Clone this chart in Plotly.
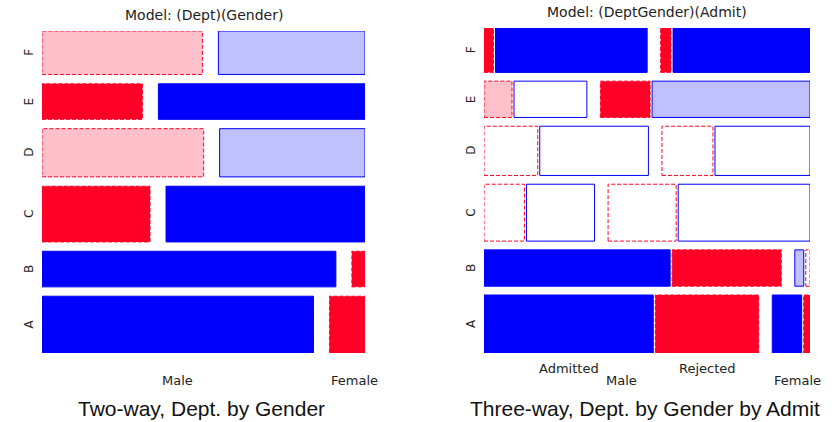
import numpy as np
import plotly.graph_objects as go

# UC Berkeley admissions, counts by department, gender and admission status
depts = ["A", "B", "C", "D", "E", "F"]
genders = ["Male", "Female"]
admit = ["Admitted", "Rejected"]
male_admitted = [512, 353, 120, 138, 53, 22]
male_rejected = [313, 207, 202, 279, 138, 351]
female_admitted = [89, 17, 202, 131, 94, 24]
female_rejected = [19, 8, 391, 244, 299, 317]

titles = ["Model: (Dept)(Gender)", "Model: (DeptGender)(Admit)"]
captions = ["Two-way, Dept. by Gender", "Three-way, Dept. by Gender by Admit"]

# counts[d, g, a]
counts = np.array([[[ma, mr], [fa, fr]] for ma, mr, fa, fr in
                   zip(male_admitted, male_rejected, female_admitted, female_rejected)], dtype=float)

BLUE, RED = "#0000FF", "#FF0026"
LIGHT_BLUE, PINK = "#C0C0FF", "#FFC0CB"
FONT = "Liberation Sans, Arial, sans-serif"
LABEL_FONT = "DejaVu Sans, sans-serif"


def shade(r):
    """Friendly shading: colour and border style from a Pearson residual."""
    if r >= 0:
        fill = BLUE if r > 4 else (LIGHT_BLUE if r > 2 else "white")
        return fill, BLUE, "solid"
    fill = RED if r < -4 else (PINK if r < -2 else "white")
    return fill, RED, "4px,2px"


# residuals, model (Dept)(Gender)
dg = counts.sum(axis=2)
N = dg.sum()
exp2 = np.outer(dg.sum(axis=1), dg.sum(axis=0)) / N
res2 = (dg - exp2) / np.sqrt(exp2)

# residuals, model (DeptGender)(Admit)
admit_tot = counts.sum(axis=(0, 1))
exp3 = dg[:, :, None] * admit_tot[None, None, :] / N
res3 = (counts - exp3) / np.sqrt(exp3)

fig = go.Figure()
shapes, annotations = [], []

W, H = 840, 422
panels = [
    dict(x0=42, x1=365, y0=31, y1=353, gy=0.029, gg=0.0495, ga=0.0, title_y=15),
    dict(x0=484, x1=810, y0=28, y1=353, gy=0.027, gg=0.0415, ga=0.0062, title_y=12),
]


def label(**kw):
    base = dict(showarrow=False, xanchor="center", yanchor="middle",
                font=dict(family=LABEL_FONT, size=13, color="#222"))
    base.update(kw)
    return base


dept_tot = dg.sum(axis=1)
for p, panel in enumerate(panels):
    ax = "" if p == 0 else str(p + 1)
    fig.update_layout(**{
        f"xaxis{ax}": dict(domain=[panel["x0"] / W, panel["x1"] / W], range=[0, 1],
                           visible=False, fixedrange=True),
        f"yaxis{ax}": dict(domain=[1 - panel["y1"] / H, 1 - panel["y0"] / H], range=[0, 1],
                           visible=False, fixedrange=True, anchor=f"x{ax}"),
    })
    xref, yref = f"x{ax}", f"y{ax}"
    gy, gg, ga = panel["gy"], panel["gg"], panel["ga"]
    avail_h = 1 - gy * (len(depts) - 1)
    ybot = 0.0
    bottom_tiles = []
    for d, dept in enumerate(depts):
        h = avail_h * dept_tot[d] / N
        ytop = ybot + h
        if p == 0:
            avail_w = 1 - gg
            cells = [(dg[d, g], res2[d, g], g, None) for g in range(2)]
        else:
            avail_w = 1 - gg - 2 * ga
            cells = [(counts[d, g, a], res3[d, g, a], g, a) for g in range(2) for a in range(2)]
        x = 0.0
        prev_g = None
        for n, r, g, a in cells:
            if prev_g is not None:
                x += gg if g != prev_g else ga
            w = avail_w * n / dept_tot[d]
            fill, border, dash = shade(r)
            shapes.append(dict(type="rect", xref=xref, yref=yref, x0=x, x1=x + w,
                               y0=ybot, y1=ytop, fillcolor=fill,
                               line=dict(color=border, width=1, dash=dash), layer="above"))
            if d == 0:
                bottom_tiles.append((x, x + w, g, a))
            x += w
            prev_g = g
        annotations.append(label(xref="paper", yref=yref, x=(panel["x0"] - 13) / W,
                                 y=(ybot + ytop) / 2, text=dept, textangle=-90,
                                 font=dict(family=LABEL_FONT, size=12, color="#222")))
        ybot = ytop + gy

    # category labels below the bottom row
    for g in range(2):
        gt = [t for t in bottom_tiles if t[2] == g]
        gx0, gx1 = gt[0][0], gt[-1][1]
        if g == 0:
            annotations.append(label(xref=xref, yref="paper", x=(gx0 + gx1) / 2,
                                     y=1 - 380 / H, text=genders[g]))
        else:
            annotations.append(label(xref=xref, yref="paper", x=gx0, xanchor="left",
                                     y=1 - 380 / H, text=genders[g]))
    if p == 1:
        for x0, x1, g, a in bottom_tiles:
            if g == 0:
                annotations.append(label(xref=xref, yref="paper", x=(x0 + x1) / 2,
                                         y=1 - 368 / H, text=admit[a]))

    cx = (panel["x0"] + panel["x1"]) / 2
    annotations.append(label(xref="paper", yref="paper", x=cx / W, y=1 - panel["title_y"] / H,
                             text=titles[p], font=dict(family=LABEL_FONT, size=14, color="#222")))
    annotations.append(label(xref="paper", yref="paper", x=(cx - 2) / W, y=1 - 408 / H,
                             text=captions[p], font=dict(family=FONT, size=21, color="#111")))

fig.update_layout(width=W, height=H, margin=dict(l=0, r=0, t=0, b=0),
                  plot_bgcolor="white", paper_bgcolor="white", showlegend=False,
                  shapes=shapes, annotations=annotations)
fig.write_html("out.html")
